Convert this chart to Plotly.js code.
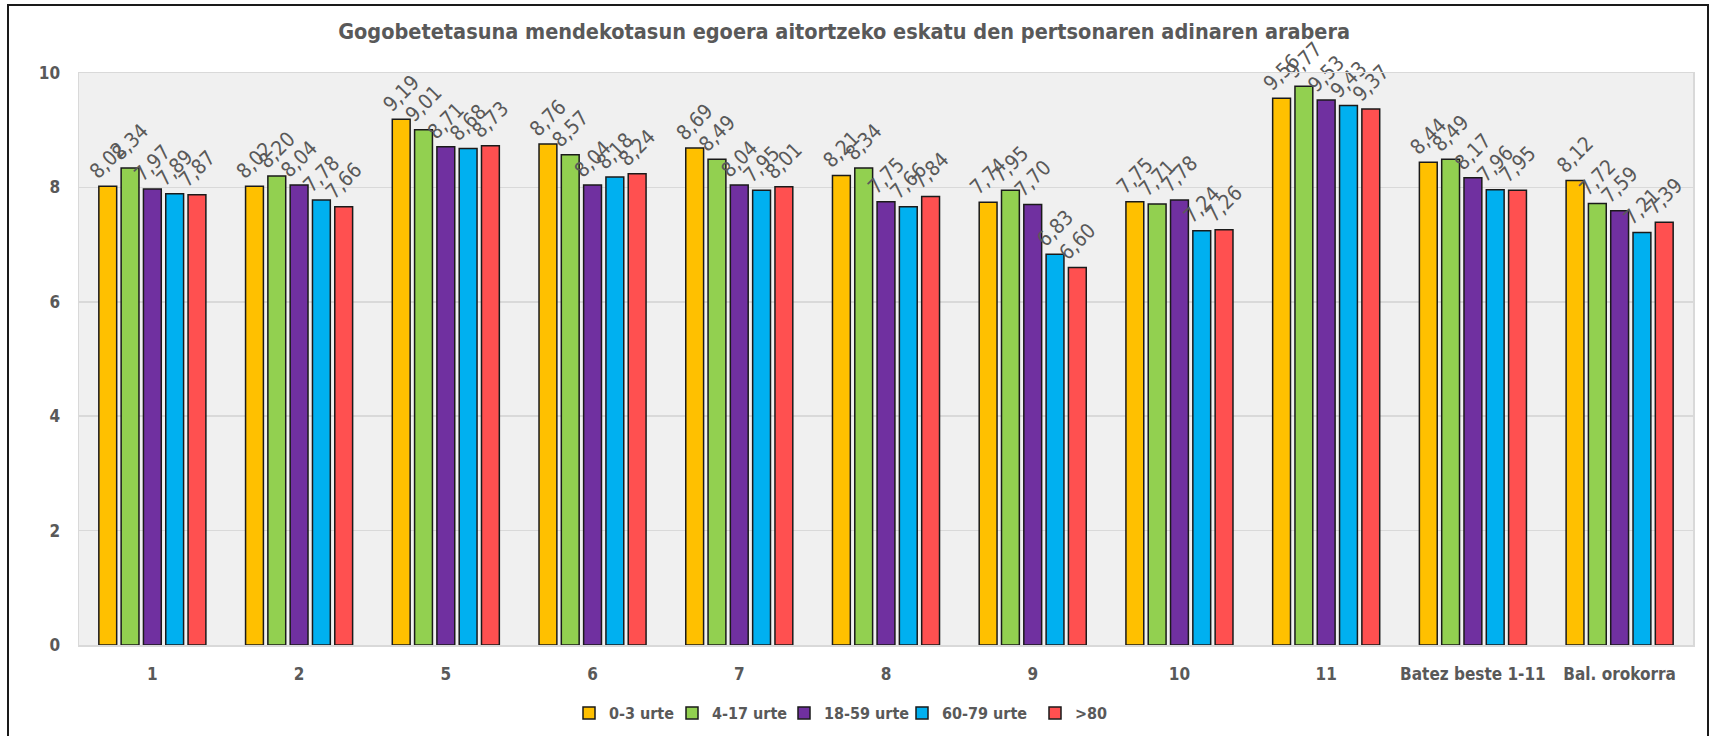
<!DOCTYPE html>
<html>
<head>
<meta charset="utf-8">
<script src="https://cdn.plot.ly/plotly-3.0.1.min.js"></script>
<style>
html,body{margin:0;padding:0;overflow:hidden;background:#fff;}
#chart{width:1714px;height:736px;}
#frame{position:absolute;left:7px;top:4px;width:1698px;height:800px;border:2px solid #1a1a1a;pointer-events:none;}
</style>
</head>
<body>
<div id="chart"></div>
<div id="frame"></div>
<script>
const categories = ["1","2","5","6","7","8","9","10","11","Batez beste 1-11","Bal. orokorra"];
const seriesNames = ["0-3 urte","4-17 urte","18-59 urte","60-79 urte",">80"];
const age0_3   = [8.02, 8.02, 9.19, 8.76, 8.69, 8.21, 7.74, 7.75, 9.56, 8.44, 8.12];
const age4_17  = [8.34, 8.20, 9.01, 8.57, 8.49, 8.34, 7.95, 7.71, 9.77, 8.49, 7.72];
const age18_59 = [7.97, 8.04, 8.71, 8.04, 8.04, 7.75, 7.70, 7.78, 9.53, 8.17, 7.59];
const age60_79 = [7.89, 7.78, 8.68, 8.18, 7.95, 7.66, 6.83, 7.24, 9.43, 7.96, 7.21];
const age80    = [7.87, 7.66, 8.73, 8.24, 8.01, 7.84, 6.60, 7.26, 9.37, 7.95, 7.39];
const yTicks = [0, 2, 4, 6, 8, 10];

const seriesValues = [age0_3, age4_17, age18_59, age60_79, age80];
const colors = ["#FFC000", "#92D050", "#7030A0", "#00B0F0", "#FF5050"];
const legendIds = ['legend', 'legend2', 'legend3', 'legend4', 'legend5'];
const legendLeft = [569, 672, 784, 902, 1035];
const FONT = "'DejaVu Sans Condensed', 'DejaVu Sans', sans-serif";
const GREY = "#595959";
const W = 1714, H = 736;

const traces = seriesValues.map((vals, i) => ({
  type: 'bar',
  name: seriesNames[i],
  legend: legendIds[i],
  x: categories,
  y: vals,
  marker: {color: colors[i], line: {color: '#1a1a1a', width: 1.5}},
  texttemplate: '%{y:.2f}',
  textposition: 'outside',
  textangle: -45,
  constraintext: 'none',
  cliponaxis: false,
  textfont: {family: FONT, size: 20.5, color: GREY},
  hoverinfo: 'x+y+name'
}));

const layout = {
  width: W, height: H,
  separators: ',.',
  margin: {l: 79, r: 21, t: 73, b: 91},
  paper_bgcolor: '#ffffff',
  plot_bgcolor: '#f0f0f0',
  barmode: 'group',
  bargap: 0.24,
  bargroupgap: 0.2,
  title: {
    text: 'Gogobetetasuna mendekotasun egoera aitortzeko eskatu den pertsonaren adinaren arabera',
    font: {family: FONT, size: 21.5, color: GREY, weight: 'bold'},
    x: 0.4925, xref: 'container', xanchor: 'center',
    y: 0.957, yref: 'container', yanchor: 'middle'
  },
  xaxis: {
    type: 'category',
    range: [-0.5, 10.5],
    showgrid: false,
    showline: true, linecolor: '#d9d9d9', linewidth: 1.5, mirror: true,
    ticks: '', ticklabelstandoff: 13,
    tickfont: {family: FONT, size: 17, color: GREY, weight: 'bold'}
  },
  yaxis: {
    range: [0, 10],
    tickvals: yTicks,
    showgrid: true, gridcolor: '#d9d9d9', gridwidth: 1.5,
    showline: true, linecolor: '#d9d9d9', linewidth: 1.5, mirror: true,
    zeroline: false,
    ticks: '', ticklabelstandoff: 14,
    tickfont: {family: FONT, size: 17, color: GREY, weight: 'bold'}
  },
  showlegend: true
};

legendIds.forEach((id, i) => {
  layout[id] = {
    orientation: 'h',
    xref: 'container', yref: 'container',
    x: legendLeft[i] / W, xanchor: 'left',
    y: 1 - 713 / H, yanchor: 'middle',
    font: {family: FONT, size: 16, color: GREY, weight: 'bold'},
    itemwidth: 30,
    bgcolor: 'rgba(0,0,0,0)'
  };
});

Plotly.newPlot('chart', traces, layout, {displayModeBar: false, staticPlot: true});
</script>
</body>
</html>
